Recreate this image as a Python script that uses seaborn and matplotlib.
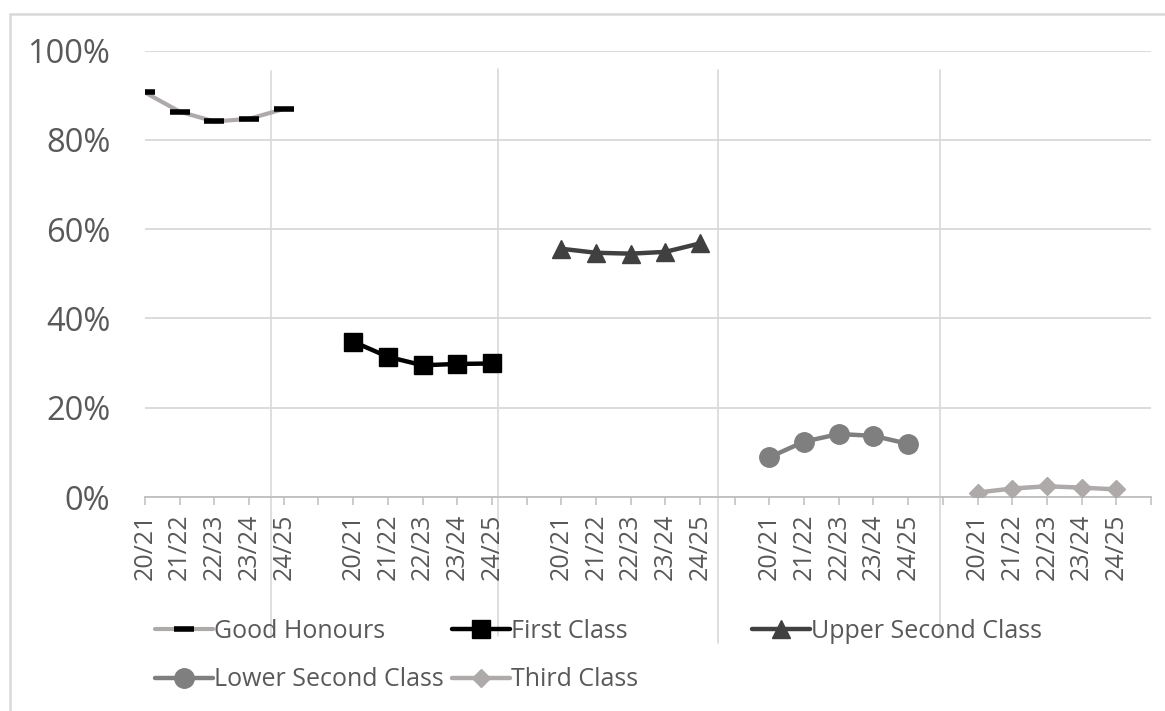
import matplotlib
matplotlib.use("Agg")
import matplotlib.pyplot as plt
from matplotlib.lines import Line2D
from matplotlib.ticker import PercentFormatter
import seaborn as sns
import pandas as pd

# ---- data -------------------------------------------------------------
years = ["20/21", "21/22", "22/23", "23/24", "24/25"]
series_names = ["Good Honours", "First Class", "Upper Second Class",
                "Lower Second Class", "Third Class"]
good_honours = [0.906, 0.863, 0.841, 0.847, 0.869]
first_class = [0.348, 0.314, 0.295, 0.298, 0.299]
upper_second = [0.556, 0.547, 0.545, 0.549, 0.568]
lower_second = [0.089, 0.124, 0.141, 0.137, 0.119]
third_class = [0.010, 0.019, 0.024, 0.021, 0.017]
y_ticks = [0, 0.2, 0.4, 0.6, 0.8, 1.0]

values = [good_honours, first_class, upper_second, lower_second, third_class]

# each series sits in its own block of years, one empty slot between blocks
block = len(years) + 1
rows = []
for g, (name, vals) in enumerate(zip(series_names, values)):
    for i, (yr, v) in enumerate(zip(years, vals)):
        rows.append({"pos": g * block + i, "year": yr, "share": v, "series": name})
df = pd.DataFrame(rows)

styles = {
    "Good Honours":       dict(color="#AEAAAA", marker="_", ms=14, mew=4.0,
                               mec="black", mfc="black", lw=3.0),
    "First Class":        dict(color="black", marker="s", ms=13, mew=1,
                               mec="black", mfc="black", lw=3.2),
    "Upper Second Class": dict(color="#404040", marker="^", ms=13, mew=1,
                               mec="#404040", mfc="#404040", lw=3.2),
    "Lower Second Class": dict(color="#7F7F7F", marker="o", ms=14, mew=1,
                               mec="#7F7F7F", mfc="#7F7F7F", lw=3.2),
    "Third Class":        dict(color="#AEAAAA", marker="D", ms=9.5, mew=1,
                               mec="#AEAAAA", mfc="#AEAAAA", lw=3.2),
}

# ---- figure -----------------------------------------------------------
sns.set_theme(style="white")
plt.rcParams["font.family"] = ["Open Sans", "DejaVu Sans"]
TEXT = "#595959"
W, H = 1165, 711
fig = plt.figure(figsize=(W / 100, H / 100), dpi=100)
ax = fig.add_axes([145 / W, 1 - 497 / H, (1151 - 145) / W, (497 - 50.5) / H])
ax.set_facecolor("none")

for name in series_names:
    s = styles[name]
    sns.lineplot(data=df[df["series"] == name], x="pos", y="share", ax=ax,
                 color=s["color"], lw=s["lw"], marker=s["marker"],
                 markersize=s["ms"], markeredgewidth=s["mew"],
                 markeredgecolor=s["mec"], markerfacecolor=s["mfc"],
                 legend=False, zorder=3, solid_capstyle="round")

n_slots = block * len(series_names)
ax.set_xlim(0, n_slots - 1)
ax.set_ylim(0, 1)
ax.set_yticks(y_ticks)
ax.yaxis.set_major_formatter(PercentFormatter(1.0, decimals=0))
ax.grid(axis="y", color="#D9D9D9", lw=1.3)
ax.grid(axis="x", visible=False)

tick_pos = list(range(n_slots))
tick_lab = [years[p % block] if p % block < len(years) else "" for p in tick_pos]
ax.set_xticks(tick_pos)
ax.set_xticklabels(tick_lab, rotation=90, fontsize=18, color=TEXT)
ax.tick_params(axis="x", length=6, width=1.1, color="#BFBFBF", pad=6,
               direction="out", bottom=True)
ax.tick_params(axis="y", length=0, labelsize=23.5, labelcolor=TEXT, pad=25)
ax.set_xlabel("")
ax.set_ylabel("")
for side in ["top", "right", "left"]:
    ax.spines[side].set_visible(False)
ax.spines["bottom"].set_color("#BFBFBF")
ax.spines["bottom"].set_linewidth(1.3)

# outer frame (top and left edges) and the light vertical rules
fig.add_artist(Line2D([10 / W, 10 / W], [0, 1 - 14 / H], transform=fig.transFigure,
                      color="#D9D9D9", lw=1.8, zorder=-2))
fig.add_artist(Line2D([10 / W, 1], [1 - 14 / H, 1 - 14 / H], transform=fig.transFigure,
                      color="#D9D9D9", lw=1.8, zorder=-2))
for xr, y0, y1 in [(271, 71, 636), (498, 69, 636), (718, 70, 643), (940, 70, 638)]:
    fig.add_artist(Line2D([xr / W, xr / W], [1 - y0 / H, 1 - y1 / H],
                          transform=fig.transFigure, color="#D9D9D9", lw=1.2,
                          zorder=-1))

# ---- legend -----------------------------------------------------------
legend_slots = {
    "Good Honours": (155, 631),
    "First Class": (452, 631),
    "Upper Second Class": (752, 631),
    "Lower Second Class": (155, 680),
    "Third Class": (452, 680),
}
for name, (lx, ly) in legend_slots.items():
    s = styles[name]
    h = Line2D([], [], color=s["color"], lw=s["lw"], marker=s["marker"],
               markersize=s["ms"], markeredgewidth=s["mew"],
               markeredgecolor=s["mec"], markerfacecolor=s["mfc"],
               solid_capstyle="round")
    leg = fig.legend([h], [name], loc="center left",
                     bbox_to_anchor=(lx / W, 1 - ly / H),
                     bbox_transform=fig.transFigure, frameon=False,
                     fontsize=18, handlelength=2.3, handletextpad=0.05,
                     borderpad=0, borderaxespad=0, numpoints=1)
    for t in leg.get_texts():
        t.set_color(TEXT)

fig.savefig("out.png", dpi=100, facecolor="white")
